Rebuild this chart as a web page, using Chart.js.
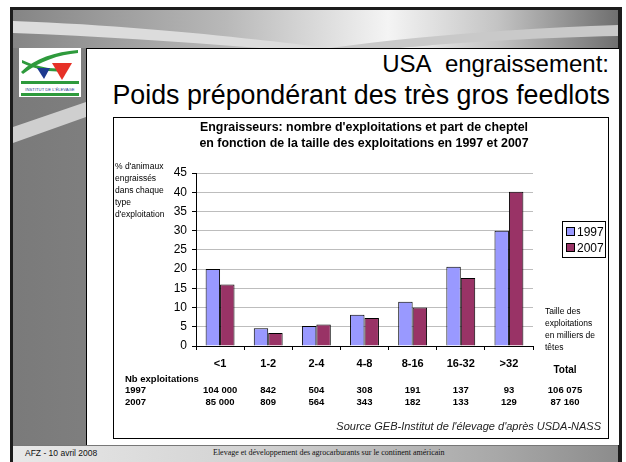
<!DOCTYPE html>
<html><head><meta charset="utf-8">
<script src="https://cdn.jsdelivr.net/npm/chart.js@4"></script>
<style>
html,body{margin:0;padding:0;width:626px;height:462px;overflow:hidden;background:#fff;font-family:Arial,"Liberation Sans",sans-serif}
.a{position:absolute;white-space:nowrap}
#panel{left:86px;top:48px;width:533px;height:397px;background:#fff;border-left:1px solid #000;border-top:1px solid #000;box-sizing:border-box}
#box{left:113px;top:117px;width:496px;height:322px;border:1px solid #000;box-sizing:border-box;background:#fff}
#t1{right:17px;top:50px;font-size:24px;line-height:28px;color:#000}
#t2{right:16px;top:80px;font-size:26.8px;line-height:30px;color:#000}
#ct{left:114px;width:500px;top:120px;text-align:center;font-weight:bold;font-size:12.4px;line-height:15.5px}
#ylab{left:115px;top:160px;font-size:8.5px;line-height:12.1px;color:#000}
#xlab{left:545px;top:305px;font-size:8.5px;line-height:12px;color:#000}
#leg{left:562px;top:221px;width:44px;height:37px;border:1px solid #000;box-sizing:border-box;background:#fff;font-size:12px}
#leg div{position:absolute;left:3px;height:14px;line-height:14px}
#leg span.sq{display:inline-block;width:7px;height:7px;border:1px solid #000;margin-right:2px;vertical-align:0px}
#src{right:25px;top:420px;font-style:italic;font-size:11px;color:#222}
#foot{left:13px;top:445px;width:605px;height:17px;background:linear-gradient(to right,#e8e8e8 0%,#d2d2d2 40%,#a8a8a8 80%,#8c8c8c 100%);border-top:1px solid #777;box-sizing:border-box}
#f1{left:25px;top:448px;font-size:8.5px;color:#111}
#f2{left:213px;top:448px;font-size:8px;font-family:"Liberation Serif","Times New Roman",serif;color:#111}
</style>
</head><body>
<script>
// ---- data ----
const categories = ['<1', '1-2', '2-4', '4-8', '8-16', '16-32', '>32'];
const seriesLabels = ['1997', '2007'];
const share1997 = [20, 4.6, 5.2, 8.1, 11.5, 20.6, 30];
const share2007 = [16, 3.4, 5.6, 7.3, 10, 17.7, 40.1];
const yMin = 0, yMax = 45, yStep = 5;
const farms1997 = ['104 000', '842', '504', '308', '191', '137', '93'];
const farms2007 = ['85 000', '809', '564', '343', '182', '133', '129'];
const totals = ['106 075', '87 160'];
const seriesColors = ['#9999FF', '#993366'];
</script>

<svg class="a" style="left:0;top:0" width="626" height="462">
  <defs>
    <linearGradient id="hdr" x1="0" y1="0" x2="1" y2="0">
      <stop offset="0" stop-color="#858585"/>
      <stop offset="0.35" stop-color="#b8b8b8"/>
      <stop offset="0.62" stop-color="#f4f4f4"/>
      <stop offset="0.8" stop-color="#c4c4c4"/>
      <stop offset="1" stop-color="#6f6f6f"/>
    </linearGradient>
    <linearGradient id="side" x1="0" y1="0" x2="1" y2="0">
      <stop offset="0" stop-color="#7a7a7a"/>
      <stop offset="1" stop-color="#9e9e9e"/>
    </linearGradient>
  </defs>
  <rect x="10" y="7" width="612" height="455" fill="#1c1c1c"/>
  <rect x="13" y="10" width="605" height="452" fill="url(#side)"/>
  <rect x="13" y="10" width="605" height="38" fill="url(#hdr)"/>
  <path d="M13,21 C150,26 260,40 330,48 L260,48 C180,42 100,36 13,33 Z" fill="#dcdcdc"/>
  <path d="M330,48 C420,36 520,28 618,25 L618,36 C520,38 440,44 400,48 Z" fill="#c9c9c9"/>
  <path d="M13,127 L86,102 L86,117 L13,143 Z" fill="#cfcfcf"/>
  <rect x="19" y="48" width="62" height="49" fill="#fff"/>
  <path d="M21,72 C35,58 55,52 78,50 L78,53 C58,55 40,61 23,74 Z" fill="#2e9a3c"/>
  <path d="M22,60 C35,66 50,70 66,68 L66,71 C50,73 35,69 22,63 Z" fill="#2e9a3c"/>
  <path d="M37,68 L50,68 L44,79 Z" fill="#1e3a8f"/>
  <path d="M52,63 L72,63 L62,80 Z" fill="#e63127"/>
  <rect x="21" y="81" width="58" height="3" fill="#2e9a3c"/>
  <text x="50" y="91" font-size="4.2" text-anchor="middle" fill="#1e3a8f" font-family="Arial,Liberation Sans,sans-serif">INSTITUT DE L'ÉLEVAGE</text>
  <rect x="21" y="93" width="58" height="3" fill="#2e9a3c"/>
</svg>

<div id="panel" class="a"></div>
<div id="t1" class="a">USA&nbsp; engraissement:</div>
<div id="t2" class="a">Poids prépondérant des très gros feedlots</div>

<div id="box" class="a">
  <canvas id="c" width="494" height="320" style="position:absolute;left:0;top:0;width:494px;height:320px"></canvas>
</div>
<div id="ct" class="a">Engraisseurs: nombre d'exploitations et part de cheptel<br>en fonction de la taille des exploitations en 1997 et 2007</div>
<div id="ylab" class="a">% d'animaux<br>engraissés<br>dans chaque<br>type<br>d'exploitation</div>
<div id="xlab" class="a">Taille des<br>exploitations<br>en milliers de<br>têtes</div>
<div id="leg" class="a"></div>
<div id="src" class="a">Source GEB-Institut de l'élevage d'après USDA-NASS</div>
<div id="foot" class="a"></div>
<div id="f1" class="a">AFZ - 10 avril 2008</div>
<div id="f2" class="a">Elevage et développement des agrocarburants sur le continent américain</div>

<script>
const FONT = 'Arial, "Liberation Sans", sans-serif';
const tablePlugin = {
  id: 'farmTable',
  afterDraw(chart) {
    const ctx = chart.ctx, xs = chart.scales.x;
    ctx.save();
    ctx.fillStyle = '#000';
    ctx.textBaseline = 'middle';
    ctx.font = 'bold 9.5px ' + FONT;
    ctx.textAlign = 'left';
    ctx.fillText('Nb exploitations', 11, 261);
    ctx.fillText(seriesLabels[0], 11, 272);
    ctx.fillText(seriesLabels[1], 11, 284);
    ctx.textAlign = 'center';
    categories.forEach((c, i) => {
      const x = xs.getPixelForValue(i);
      ctx.fillText(farms1997[i], x, 272);
      ctx.fillText(farms2007[i], x, 284);
    });
    const tx = 451;
    ctx.font = 'bold 10px ' + FONT;
    ctx.fillText('Total', tx, 252);
    ctx.font = 'bold 9.5px ' + FONT;
    ctx.fillText(totals[0], tx, 272);
    ctx.fillText(totals[1], tx, 284);
    ctx.restore();
  }
};

const chart = new Chart(document.getElementById('c'), {
  type: 'bar',
  data: {
    labels: categories,
    datasets: [
      { label: seriesLabels[0], data: share1997, backgroundColor: seriesColors[0], borderColor: '#000', borderWidth: 1, categoryPercentage: 0.6, barPercentage: 1.0 },
      { label: seriesLabels[1], data: share2007, backgroundColor: seriesColors[1], borderColor: '#000', borderWidth: 1, categoryPercentage: 0.6, barPercentage: 1.0 }
    ]
  },
  options: {
    responsive: false,
    animation: false,
    devicePixelRatio: 1,
    layout: { padding: { left: 0, right: 75, top: 55, bottom: 62 } },
    plugins: { legend: { display: false }, title: { display: false }, tooltip: { enabled: false } },
    scales: {
      x: {
        afterFit(s) { s.height = 30; },
        grid: { display: true, drawOnChartArea: false, drawTicks: true, tickLength: 4, color: '#000', offset: true },
        border: { display: true, color: '#000', width: 1 },
        ticks: { color: '#000', font: { family: FONT, size: 11, weight: 'bold' }, padding: 7, maxRotation: 0, autoSkip: false }
      },
      y: {
        min: yMin, max: yMax,
        afterFit(s) { s.width = 82; },
        grid: { color: '#bdbdbd', lineWidth: 1, tickColor: '#000', tickLength: 4, drawTicks: true },
        border: { display: true, color: '#000', width: 1 },
        ticks: { stepSize: yStep, color: '#000', font: { family: FONT, size: 12 }, padding: 5 }
      }
    }
  },
  plugins: [tablePlugin]
});

// legend built from the chart's datasets
const leg = document.getElementById('leg');
chart.data.datasets.forEach((d, i) => {
  const row = document.createElement('div');
  row.style.top = (3 + i * 16) + 'px';
  row.innerHTML = '<span class="sq" style="background:' + d.backgroundColor + '"></span>' + d.label;
  leg.appendChild(row);
});
</script>
</body></html>
